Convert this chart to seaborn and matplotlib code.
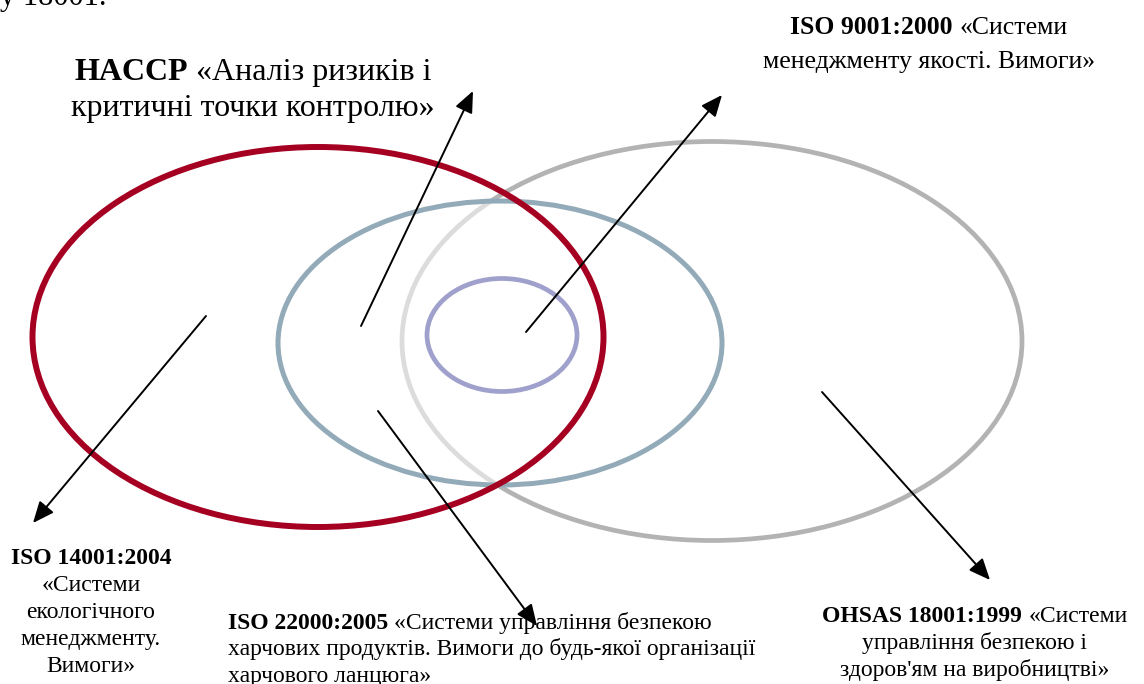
import matplotlib
matplotlib.use("Agg")
import matplotlib.pyplot as plt
from matplotlib.patches import Ellipse
import seaborn as sns

# canvas in pixels, so data units == pixels
W, H = 1144, 684

# ellipses: OHSAS (grey), ISO 22000 (blue), ISO 14001 (red), ISO 9001 (purple)
ell_cx = [712, 500, 318, 502]
ell_cy = [341, 343, 337, 335]
ell_w = [620, 444, 571, 150]
ell_h = [399, 284, 380, 113]
ell_colors = ["#b3b3b3", "#93aab8", "#a50021", "#a0a0cc"]
ell_lw = [3.4, 3.6, 4.3, 3.4]

# arrows: start -> tip
arr_x0 = [361, 526, 206, 378, 822]
arr_y0 = [326, 332, 316, 411, 392]
arr_x1 = [473, 722, 33, 537, 990]
arr_y1 = [91, 95, 523, 626, 580]

# labels: lines of (text, weight) parts
haccp_lines = [[("HACCP", "bold"), ("«Аналіз ризиків і", "normal")],
               [("критичні точки контролю»", "normal")]]
iso9001_lines = [[("ISO 9001:2000", "bold"), ("«Системи", "normal")],
                 [("менеджменту якості. Вимоги»", "normal")]]
iso14001_lines = [[("ISO 14001:2004", "bold")],
                  [("«Системи", "normal")],
                  [("екологічного", "normal")],
                  [("менеджменту.", "normal")],
                  [("Вимоги»", "normal")]]
iso22000_lines = [[("ISO 22000:2005", "bold"), ("«Системи управління безпекою", "normal")],
                  [("харчових продуктів. Вимоги до будь-якої організації", "normal")],
                  [("харчового ланцюга»", "normal")]]
ohsas_lines = [[("OHSAS 18001:1999", "bold"), ("«Системи", "normal")],
               [("управління безпекою і", "normal")],
               [("здоров'ям на виробництві»", "normal")]]

sns.set_theme(style="white")
plt.rcParams["font.family"] = ["Liberation Serif", "DejaVu Serif"]

fig = plt.figure(figsize=(W / 100, H / 100), dpi=100)
ax = fig.add_axes([0, 0, 1, 1])
ax.set_xlim(0, W)
ax.set_ylim(H, 0)
ax.axis("off")

# grey ellipse first, then blue with a half-white fill (lightens grey inside)
ax.add_patch(Ellipse((ell_cx[0], ell_cy[0]), ell_w[0], ell_h[0], fill=False,
                     edgecolor=ell_colors[0], lw=ell_lw[0]))
ax.add_patch(Ellipse((ell_cx[1], ell_cy[1]), ell_w[1], ell_h[1],
                     facecolor="white", alpha=0.55, edgecolor="none"))
for i in [1, 2, 3]:
    ax.add_patch(Ellipse((ell_cx[i], ell_cy[i]), ell_w[i], ell_h[i], fill=False,
                         edgecolor=ell_colors[i], lw=ell_lw[i]))

renderer = fig.canvas.get_renderer()


def put_block(lines, x, y, size, step, ha="center"):
    gap = 0.25 * size * 100 / 72
    for k, parts in enumerate(lines):
        yy = y + k * step
        texts = [ax.text(0, yy, s, fontsize=size, fontweight=wt, va="baseline", ha="left",
                         color="black") for s, wt in parts]
        widths = [t.get_window_extent(renderer).width for t in texts]
        total = sum(widths) + gap * (len(texts) - 1)
        xx = x - total / 2 if ha == "center" else x
        for t, w in zip(texts, widths):
            t.set_x(xx)
            xx += w + gap


put_block([[("у 18001.", "normal")]], 0, 5, 22, 0, ha="left")
put_block(haccp_lines, 253, 80, 23, 36)
put_block(iso9001_lines, 929, 34, 18.5, 34)
put_block(iso14001_lines, 91, 564, 17, 27)
put_block(iso22000_lines, 228, 629, 17, 26.5, ha="left")
put_block(ohsas_lines, 975, 622, 17, 27)

# arrows drawn over the text
for x0, y0, x1, y1 in zip(arr_x0, arr_y0, arr_x1, arr_y1):
    ax.annotate("", xy=(x1, y1), xytext=(x0, y0),
                arrowprops=dict(arrowstyle="-|>,head_length=0.65,head_width=0.28",
                                mutation_scale=20, lw=1.4, color="black",
                                shrinkA=0, shrinkB=0))

fig.savefig("out.png", dpi=100)
